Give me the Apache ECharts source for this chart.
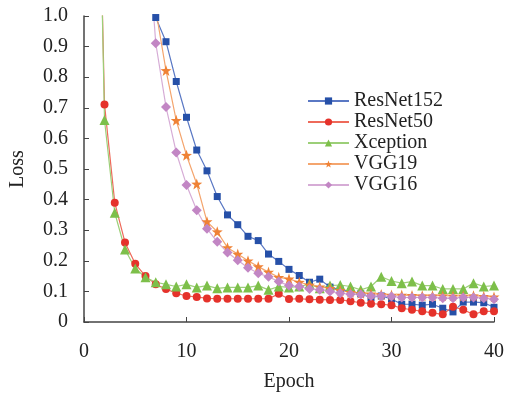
<!DOCTYPE html>
<html>
<head>
<meta charset="utf-8">
<script src="https://cdn.jsdelivr.net/npm/echarts@6/dist/echarts.min.js"></script>
<style>
  html, body { margin: 0; padding: 0; background: #fff; }
  #chart { width: 507px; height: 397px; }
</style>
</head>
<body>
<div id="chart"></div>
<script>
const epochs = [1, 2, 3, 4, 5, 6, 7, 8, 9, 10, 11, 12, 13, 14, 15, 16, 17, 18, 19, 20,
  21, 22, 23, 24, 25, 26, 27, 28, 29, 30, 31, 32, 33, 34, 35, 36, 37, 38, 39, 40];

const resnet152 = [null, null, null, null, null, 1.35, 0.995, 0.916, 0.786, 0.669,
  0.562, 0.494, 0.41, 0.35, 0.318, 0.28, 0.266, 0.222, 0.198, 0.172,
  0.152, 0.13, 0.14, 0.114, 0.105, 0.1, 0.092, 0.08, 0.085, 0.075,
  0.058, 0.058, 0.055, 0.058, 0.045, 0.033, 0.065, 0.065, 0.063, 0.048];

const resnet50 = [2.2, 0.711, 0.39, 0.26, 0.19, 0.15, 0.123, 0.108, 0.094, 0.085,
  0.082, 0.077, 0.076, 0.076, 0.076, 0.076, 0.076, 0.076, 0.092, 0.075,
  0.076, 0.074, 0.073, 0.072, 0.072, 0.068, 0.063, 0.06, 0.058, 0.055,
  0.045, 0.04, 0.035, 0.03, 0.025, 0.05, 0.04, 0.025, 0.035, 0.035];

const xception = [2.3, 0.66, 0.357, 0.237, 0.175, 0.146, 0.13, 0.123, 0.116, 0.123,
  0.113, 0.119, 0.11, 0.113, 0.113, 0.113, 0.119, 0.105, 0.116, 0.113,
  0.116, 0.124, 0.11, 0.119, 0.121, 0.116, 0.105, 0.116, 0.148, 0.134,
  0.127, 0.132, 0.119, 0.119, 0.108, 0.108, 0.108, 0.127, 0.116, 0.119];

const vgg19 = [null, null, null, null, null, 1.4, 1.02, 0.822, 0.659, 0.545,
  0.451, 0.328, 0.295, 0.243, 0.222, 0.2, 0.181, 0.163, 0.146, 0.141,
  0.13, 0.121, 0.115, 0.11, 0.103, 0.097, 0.094, 0.092, 0.09, 0.088,
  0.088, 0.087, 0.086, 0.086, 0.086, 0.085, 0.085, 0.086, 0.084, 0.082];

const vgg16 = [null, null, null, null, null, 1.37, 0.911, 0.703, 0.554, 0.448,
  0.365, 0.305, 0.262, 0.227, 0.202, 0.177, 0.159, 0.148, 0.132, 0.119,
  0.116, 0.108, 0.105, 0.1, 0.094, 0.091, 0.09, 0.085, 0.085, 0.083,
  0.08, 0.08, 0.08, 0.08, 0.078, 0.078, 0.08, 0.08, 0.078, 0.074];

const xTicks = [0, 10, 20, 30, 40];

const starPath = 'path://M0,-10L2.35,-3.24L9.51,-3.09L3.8,1.24L5.88,8.09L0,4L-5.88,8.09L-3.8,1.24L-9.51,-3.09L-2.35,-3.24Z';

const fontFamily = '"Liberation Serif", "DejaVu Serif", serif';

function pairs(values) {
  return epochs.map((e, i) => [e, values[i]]);
}

function makeSeries(name, values, symbol, size, color, lineColor) {
  return {
    name: name,
    type: 'line',
    data: pairs(values),
    symbol: symbol,
    symbolSize: size,
    clip: true,
    connectNulls: false,
    itemStyle: { color: color },
    lineStyle: { color: lineColor, width: 1.2 },
    emphasis: { disabled: true }
  };
}

const chart = echarts.init(document.getElementById('chart'));

const option = {
  backgroundColor: '#fff',
  animation: false,
  grid: { left: 81, right: 10, top: 16, bottom: 73 },
  legend: {
    orient: 'vertical',
    left: 302,
    top: 86,
    itemWidth: 41,
    itemHeight: 9,
    itemGap: 1,
    textStyle: { fontFamily: fontFamily, fontSize: 20, color: '#222' },
    data: ['ResNet152', 'ResNet50', 'Xception', 'VGG19', 'VGG16']
  },
  xAxis: {
    type: 'value',
    min: 0,
    max: 40,
    interval: 10,
    name: 'Epoch',
    nameLocation: 'middle',
    nameGap: 50,
    nameTextStyle: { fontFamily: fontFamily, fontSize: 20, color: '#222' },
    axisLine: { show: true, lineStyle: { color: '#444', width: 1.5 } },
    axisTick: { show: true, inside: true, length: 5, lineStyle: { color: '#444' } },
    axisLabel: {
      margin: 20,
      fontFamily: fontFamily,
      fontSize: 20,
      color: '#222',
      formatter: v => (xTicks.includes(v) ? String(v) : '')
    },
    splitLine: { show: false }
  },
  yAxis: {
    type: 'value',
    min: 0,
    max: 1.0,
    interval: 0.1,
    name: 'Loss',
    nameLocation: 'middle',
    nameGap: 56,
    nameTextStyle: { fontFamily: fontFamily, fontSize: 20, color: '#222' },
    axisLine: { show: true, lineStyle: { color: '#444', width: 1.5 } },
    axisTick: { show: true, inside: true, length: 5, lineStyle: { color: '#444' } },
    axisLabel: {
      margin: 16,
      fontFamily: fontFamily,
      fontSize: 20,
      color: '#222',
      formatter: v => (v === 0 ? '0' : v.toFixed(1))
    },
    splitLine: { show: false }
  },
  series: [
    makeSeries('ResNet152', resnet152, 'rect', 7, '#2650a8', '#5a78c4'),
    makeSeries('ResNet50', resnet50, 'circle', 8, '#e5322b', '#ee6a5a'),
    makeSeries('Xception', xception, 'triangle', 10, '#7dbf4a', '#9ccf78'),
    makeSeries('VGG19', vgg19, starPath, 11, '#ef8236', '#f4a56e'),
    makeSeries('VGG16', vgg16, 'diamond', 10, '#c286c4', '#d6acd6')
  ]
};

chart.setOption(option);
</script>
</body>
</html>
